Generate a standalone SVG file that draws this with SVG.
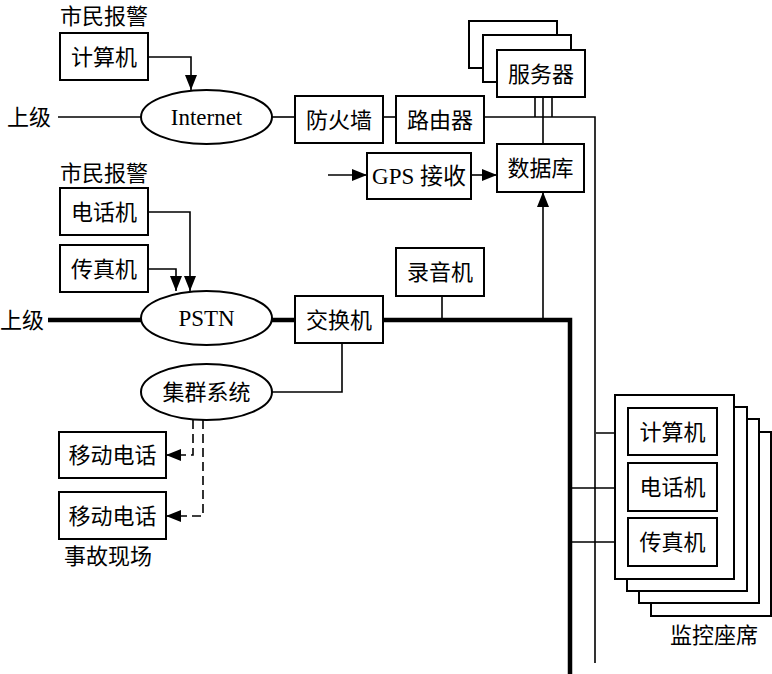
<svg xmlns="http://www.w3.org/2000/svg" width="772" height="674" viewBox="0 0 772 674">
<style>
text{font-family:"Liberation Serif","Noto Sans CJK SC",serif;font-size:22px;fill:#000;text-anchor:middle;dominant-baseline:central}
.en{font-size:23px}
.b{fill:#fff;stroke:#000;stroke-width:2}
.l{fill:none;stroke:#000;stroke-width:1.6}
.t{fill:none;stroke:#000;stroke-width:4.5}
.d{fill:none;stroke:#000;stroke-width:1.6;stroke-dasharray:9,5}
</style>
<defs>
<marker id="a2" viewBox="0 0 10 10" refX="10" refY="5" markerWidth="15" markerHeight="15" markerUnits="userSpaceOnUse" orient="auto"><path d="M0,1L10,5L0,9z" fill="#000"/></marker>
</defs>
<g id="connectors">
<path class="l" d="M58,117H141"/>
<path class="l" d="M272,117H295"/>
<path class="l" d="M383,117H396"/>
<path class="l" d="M484,117H595V663"/>
<path class="l" d="M148,57H191V90" marker-end="url(#a2)"/>
<path class="l" d="M535,97V117M552,97V117M543,97V144"/>
<path class="l" d="M328,175H367" marker-end="url(#a2)"/>
<path class="l" d="M471,175H497" marker-end="url(#a2)"/>
<path class="l" d="M543,320V192" marker-end="url(#a2)"/>
<path class="l" d="M148,212H190V291" marker-end="url(#a2)"/>
<path class="l" d="M148,269H176V291" marker-end="url(#a2)"/>
<path class="t" d="M48,320H141M272,320H295M383,320H570V674"/>
<path class="l" d="M442,296V320"/>
<path class="l" d="M272,392H342V343"/>
<path class="d" d="M193,420V455H166" marker-end="url(#a2)"/>
<path class="d" d="M203,420V516H166" marker-end="url(#a2)"/>
<path class="l" d="M596,433H628M569,488H628M569,542H628"/>
</g>
<g id="label-citizen1"><text x="104" y="16">市民报警</text></g>
<g id="computer1"><rect class="b" x="60" y="33" width="88" height="47"/><text x="104" y="57">计算机</text></g>
<g id="upper1"><text x="29" y="117">上级</text></g>
<g id="internet"><ellipse class="b" cx="206.5" cy="117" rx="65.5" ry="27"/><text class="en" x="206.5" y="117">Internet</text></g>
<g id="firewall"><rect class="b" x="295" y="96" width="88" height="47"/><text x="339" y="120">防火墙</text></g>
<g id="router"><rect class="b" x="396" y="96" width="88" height="47"/><text x="440" y="120">路由器</text></g>
<g id="server">
<rect class="b" x="469" y="21" width="88" height="47"/>
<rect class="b" x="483" y="35" width="88" height="47"/>
<rect class="b" x="497" y="50" width="88" height="47"/><text x="541" y="74">服务器</text></g>
<g id="gps"><rect class="b" x="367" y="153" width="104" height="46"/><text class="en" x="419" y="176">GPS 接收</text></g>
<g id="database"><rect class="b" x="497" y="144" width="87" height="48"/><text x="540.5" y="168">数据库</text></g>
<g id="label-citizen2"><text x="104" y="173">市民报警</text></g>
<g id="phone1"><rect class="b" x="60" y="188" width="88" height="47"/><text x="104" y="212">电话机</text></g>
<g id="fax1"><rect class="b" x="60" y="245" width="88" height="47"/><text x="104" y="269">传真机</text></g>
<g id="upper2"><text x="22" y="320">上级</text></g>
<g id="pstn"><ellipse class="b" cx="206.5" cy="318" rx="65.5" ry="27"/><text class="en" x="206.5" y="318">PSTN</text></g>
<g id="switch"><rect class="b" x="295" y="296" width="88" height="47"/><text x="339" y="320">交换机</text></g>
<g id="recorder"><rect class="b" x="396" y="248" width="88" height="48"/><text x="440" y="272">录音机</text></g>
<g id="trunk"><ellipse class="b" cx="206.5" cy="392" rx="65.5" ry="28"/><text x="206.5" y="392">集群系统</text></g>
<g id="mobile1"><rect class="b" x="59" y="432" width="107" height="46"/><text x="112.5" y="455">移动电话</text></g>
<g id="mobile2"><rect class="b" x="59" y="492" width="107" height="47"/><text x="112.5" y="516">移动电话</text></g>
<g id="label-scene"><text x="108" y="556">事故现场</text></g>
<g id="console">
<rect class="b" x="651" y="432" width="120" height="184"/>
<rect class="b" x="639" y="419" width="120" height="184"/>
<rect class="b" x="627" y="407" width="120" height="184"/>
<rect class="b" x="615" y="395" width="119" height="184"/>
<rect class="b" x="628" y="408" width="89" height="47"/><text x="672.5" y="432">计算机</text>
<rect class="b" x="628" y="463" width="89" height="48"/><text x="672.5" y="487">电话机</text>
<rect class="b" x="628" y="518" width="89" height="48"/><text x="672.5" y="542">传真机</text>
</g>
<g id="label-console"><text x="714" y="635">监控座席</text></g>
</svg>
